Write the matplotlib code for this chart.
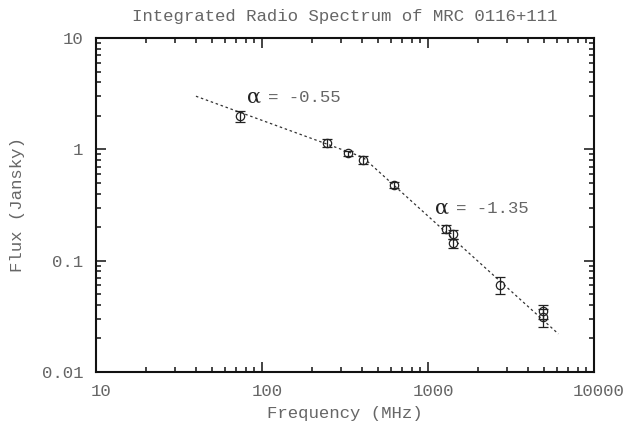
import numpy as np
import matplotlib
matplotlib.use('Agg')
import matplotlib.pyplot as plt
import matplotlib.transforms as mtransforms
from matplotlib.ticker import LogLocator, NullFormatter, FixedLocator, FixedFormatter

# Measured points (MHz, Jy)
freq = [74, 245, 328, 408, 620, 1280, 1420, 1420, 2700, 4900, 4900]
flux = [1.98, 1.15, 0.92, 0.81, 0.475, 0.192, 0.172, 0.143, 0.061, 0.035, 0.031]
flux_err = [0.22, 0.10, 0.05, 0.07, 0.03, 0.015, 0.015, 0.012, 0.011, 0.005, 0.0055]

# Broken power-law fit (start, break, end)
fit_freq = [40, 405, 6100]
fit_flux = [3.0, 0.85, 0.022]

x_ticks = [10, 100, 1000, 10000]
x_labels = ['10', '100', '1000', '10000']
y_ticks = [0.01, 0.1, 1, 10]
y_labels = ['0.01', '0.1', '1', '10']

TXT = '#666666'
FONT = 'Liberation Mono'

fig = plt.figure(figsize=(6.26, 4.24), dpi=100)
ax = fig.add_axes([96 / 626, 52 / 424, 498 / 626, 334 / 424])

ax.plot(fit_freq, fit_flux, color='#333333', linestyle=(0, (2, 2.2)), linewidth=0.9)
ax.errorbar(freq, flux, yerr=flux_err, fmt='o', mfc='none', mec='#222222',
            ecolor='#222222', ms=6, mew=0.9, elinewidth=0.9, capsize=3.5, capthick=0.9)

ax.set_xscale('log')
ax.set_yscale('log')
ax.set_xlim(10, 10000)
ax.set_ylim(0.01, 10)

ax.xaxis.set_major_locator(FixedLocator(x_ticks))
ax.xaxis.set_major_formatter(FixedFormatter(x_labels))
ax.yaxis.set_major_locator(FixedLocator(y_ticks))
ax.yaxis.set_major_formatter(FixedFormatter(y_labels))
ax.xaxis.set_minor_locator(LogLocator(base=10, subs=np.arange(2, 10)))
ax.yaxis.set_minor_locator(LogLocator(base=10, subs=np.arange(2, 10)))
ax.xaxis.set_minor_formatter(NullFormatter())
ax.yaxis.set_minor_formatter(NullFormatter())

ax.tick_params(which='both', direction='in', top=True, right=True, color='#111111', width=1.1)
ax.tick_params(which='major', length=7, pad=9, labelsize=12.5, labelcolor=TXT)
ax.tick_params(which='minor', length=3.5)
for lab in ax.get_xticklabels() + ax.get_yticklabels():
    lab.set_fontfamily(FONT)
# x tick labels sit a little right of their ticks in the original
shift = mtransforms.ScaledTranslation(5 / 100, 0, fig.dpi_scale_trans)
for lab in ax.get_xticklabels():
    lab.set_transform(lab.get_transform() + shift)
for sp in ax.spines.values():
    sp.set_linewidth(1.5)
    sp.set_color('#111111')

ax.set_xlabel('Frequency (MHz)', fontsize=12.5, family=FONT, color=TXT, labelpad=5)
ax.set_ylabel('Flux (Jansky)', fontsize=12.5, family=FONT, color=TXT, labelpad=12)
ax.set_title('Integrated Radio Spectrum of MRC 0116+111', fontsize=12.5, family=FONT,
             color=TXT, pad=12)

# spectral index annotations
ax.text(0.303, 0.823, 'α', transform=ax.transAxes, fontsize=15,
        color='#222222', va='center', ha='left', family='DejaVu Serif')
ax.text(0.345, 0.823, '= -0.55', transform=ax.transAxes, fontsize=12.5, family=FONT,
        color=TXT, va='center', ha='left')
ax.text(0.681, 0.491, 'α', transform=ax.transAxes, fontsize=15,
        color='#222222', va='center', ha='left', family='DejaVu Serif')
ax.text(0.723, 0.491, '= -1.35', transform=ax.transAxes, fontsize=12.5, family=FONT,
        color=TXT, va='center', ha='left')

fig.savefig('out.png', dpi=100)
